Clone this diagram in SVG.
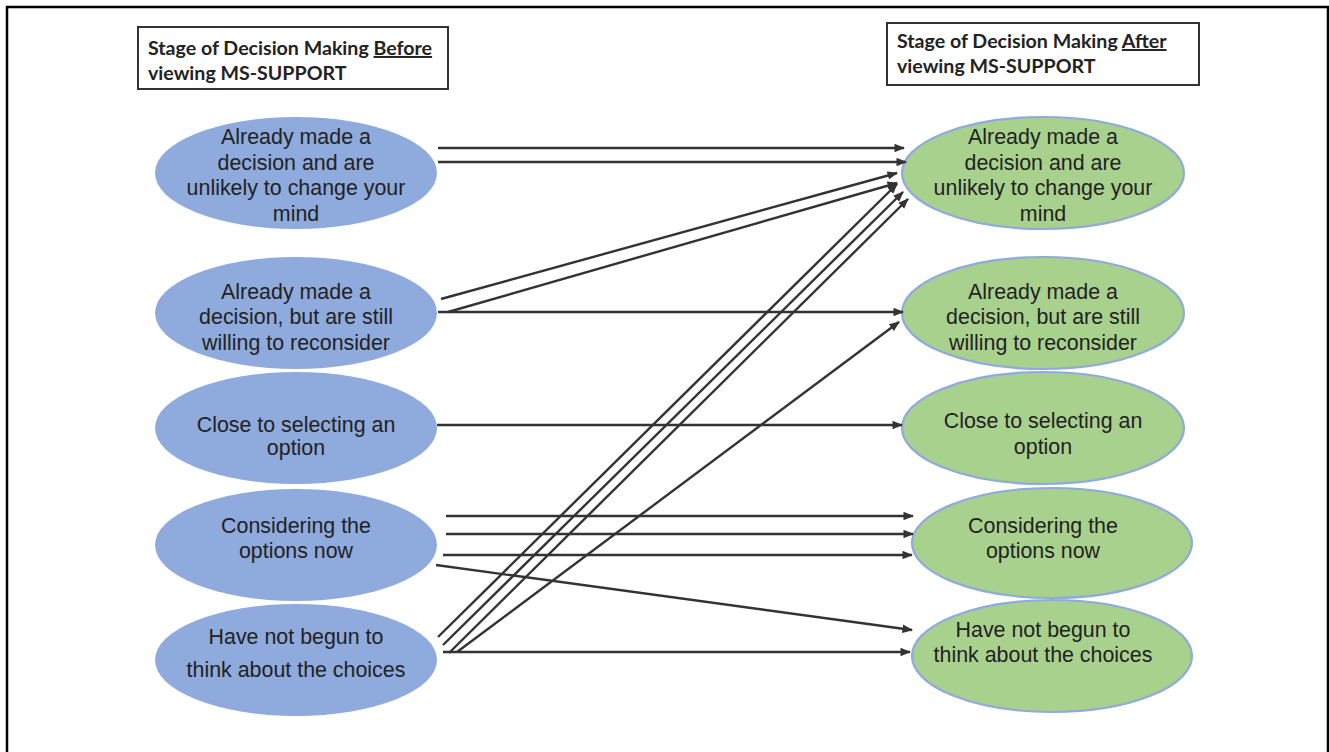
<svg xmlns="http://www.w3.org/2000/svg" width="1329" height="752" viewBox="0 0 1329 752">
<style>
.hdr{fill:#fff;stroke:#333;stroke-width:2}
.ht{font-family:Lato,"Liberation Sans",sans-serif;font-weight:bold;font-size:19.6px;fill:#222}
.u{text-decoration:underline}
.lb{fill:#8faadc}
.rg{fill:#a9d18e;stroke:#8faadc;stroke-width:2.2}
.t{font-family:"Liberation Sans",Arial,sans-serif;font-size:21.4px;fill:#222;text-anchor:middle}
.c line{stroke:#333;stroke-width:2.4;marker-end:url(#ah)}
</style>
<defs>
<marker id="ah" viewBox="0 0 10 8" refX="9" refY="4" markerWidth="4.4" markerHeight="3.6" orient="auto" markerUnits="strokeWidth">
<path d="M0,0 L10,4 L0,8 Z" fill="#333"/>
</marker>
</defs>
<rect width="1329" height="752" fill="#fff"/>
<path d="M7,752 V7 H1328 V752" fill="none" stroke="#000" stroke-width="2.5"/>

<g id="hdr-before">
<rect class="hdr" x="138" y="27" width="310" height="62"/>
<text class="ht" x="148" y="55">Stage of Decision Making <tspan class="u">Before</tspan></text>
<text class="ht" x="148" y="80">viewing MS-SUPPORT</text>
</g>
<g id="hdr-after">
<rect class="hdr" x="887" y="23" width="312" height="62"/>
<text class="ht" x="897" y="48">Stage of Decision Making <tspan class="u">After</tspan></text>
<text class="ht" x="897" y="73">viewing MS-SUPPORT</text>
</g>

<g id="b1"><ellipse class="lb" cx="296" cy="173" rx="141" ry="56"/>
<text class="t" x="296" y="144">Already made a</text><text class="t" x="296" y="170">decision and are</text><text class="t" x="296" y="195">unlikely to change your</text><text class="t" x="296" y="221">mind</text></g>
<g id="b2"><ellipse class="lb" cx="296" cy="313" rx="141" ry="56"/>
<text class="t" x="296" y="299">Already made a</text><text class="t" x="296" y="324">decision, but are still</text><text class="t" x="296" y="350">willing to reconsider</text></g>
<g id="b3"><ellipse class="lb" cx="296" cy="428" rx="141" ry="56"/>
<text class="t" x="296" y="432">Close to selecting an</text><text class="t" x="296" y="455">option</text></g>
<g id="b4"><ellipse class="lb" cx="296" cy="545" rx="141" ry="56"/>
<text class="t" x="296" y="533">Considering the</text><text class="t" x="296" y="558">options now</text></g>
<g id="b5"><ellipse class="lb" cx="296" cy="660" rx="141" ry="56"/>
<text class="t" x="296" y="644">Have not begun to</text><text class="t" x="296" y="677">think about the choices</text></g>

<g id="a1"><ellipse class="rg" cx="1043" cy="173" rx="141" ry="56"/>
<text class="t" x="1043" y="144">Already made a</text><text class="t" x="1043" y="170">decision and are</text><text class="t" x="1043" y="195">unlikely to change your</text><text class="t" x="1043" y="221">mind</text></g>
<g id="a2"><ellipse class="rg" cx="1043" cy="313" rx="141" ry="56"/>
<text class="t" x="1043" y="299">Already made a</text><text class="t" x="1043" y="324">decision, but are still</text><text class="t" x="1043" y="350">willing to reconsider</text></g>
<g id="a3"><ellipse class="rg" cx="1043" cy="428" rx="141" ry="56"/>
<text class="t" x="1043" y="428">Close to selecting an</text><text class="t" x="1043" y="454">option</text></g>
<g id="a4"><ellipse class="rg" cx="1052" cy="543" rx="140" ry="55"/>
<text class="t" x="1043" y="533">Considering the</text><text class="t" x="1043" y="558">options now</text></g>
<g id="a5"><ellipse class="rg" cx="1052" cy="656" rx="140" ry="56"/>
<text class="t" x="1043" y="637">Have not begun to</text><text class="t" x="1043" y="662">think about the choices</text></g>

<g id="connectors" class="c">
<line x1="438" y1="148" x2="904" y2="148"/>
<line x1="438" y1="162" x2="906" y2="162"/>
<line x1="441" y1="299" x2="897" y2="173"/>
<line x1="448" y1="312" x2="897" y2="183"/>
<line x1="438" y1="312" x2="903" y2="312"/>
<line x1="438" y1="637" x2="897" y2="184"/>
<line x1="443" y1="645" x2="903" y2="192"/>
<line x1="449" y1="653" x2="908" y2="199"/>
<line x1="457" y1="652" x2="899" y2="322"/>
<line x1="437" y1="425" x2="902" y2="425"/>
<line x1="446" y1="516" x2="913" y2="516"/>
<line x1="446" y1="534" x2="913" y2="534"/>
<line x1="443" y1="555" x2="912" y2="555"/>
<line x1="436" y1="565" x2="912" y2="630"/>
<line x1="443" y1="652" x2="910" y2="652"/>
</g>
</svg>
